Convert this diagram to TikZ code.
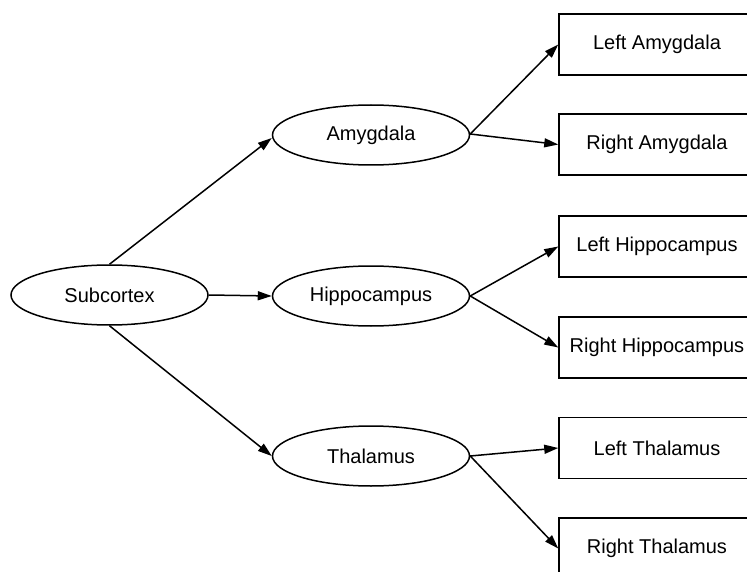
\documentclass[tikz,border=0pt]{standalone}
\usepackage{fontspec}
\setmainfont{Liberation Sans}
\usetikzlibrary{shapes.geometric,arrows.meta}
\tikzset{
  oval/.style={ellipse, draw, line width=1.5pt, minimum width=197pt, minimum height=60pt, inner sep=0pt, font=\fontsize{20}{24}\selectfont},
  leaf/.style={rectangle, draw, line width=1.5pt, minimum width=196pt, minimum height=61pt, inner sep=0pt, font=\fontsize{20}{24}\selectfont},
  conn/.style={line width=1.5pt, -{Triangle[length=14pt,width=9pt]}}
}
\begin{document}
\begin{tikzpicture}[x=1pt,y=-1pt]
\clip (0,0) rectangle (747,572);
\fill[white] (0,0) rectangle (747,572);
\node[oval] (sub) at (109.5,295) {Subcortex};
\node[oval] (amy) at (371,135) {Amygdala};
\node[oval] (hip) at (371,296) {Hippocampus};
\node[oval] (tha) at (371,456) {Thalamus};
\node[leaf] (lamy) at (657,44.5) {Left Amygdala};
\node[leaf] (ramy) at (657,144.5) {Right Amygdala};
\node[leaf] (lhip) at (657,246.5) {Left Hippocampus};
\node[leaf] (rhip) at (657,347.5) {Right Hippocampus};
\node[leaf] (ltha) at (657,448) {Left Thalamus};
\node[leaf] (rtha) at (657,548.5) {Right Thalamus};
\draw[conn] (sub.north) -- ([yshift=-3pt]amy.west);
\draw[conn] (sub.east) -- (hip.west);
\draw[conn] (sub.south) -- (tha.west);
\draw[conn] ([yshift=1pt]amy.east) -- (lamy.west);
\draw[conn] ([yshift=1pt]amy.east) -- (ramy.west);
\draw[conn] (hip.east) -- (lhip.west);
\draw[conn] (hip.east) -- (rhip.west);
\draw[conn] (tha.east) -- (ltha.west);
\draw[conn] (tha.east) -- (rtha.west);
\end{tikzpicture}
\end{document}
